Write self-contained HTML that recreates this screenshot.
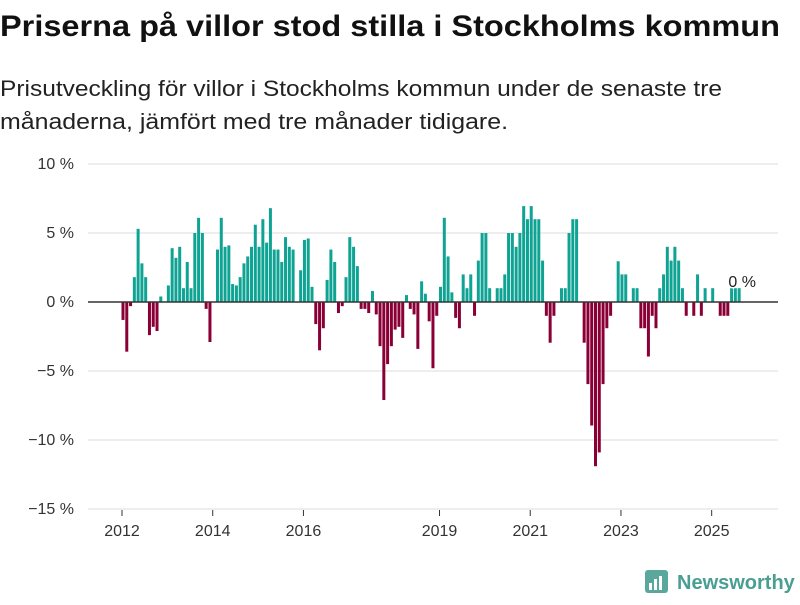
<!DOCTYPE html>
<html><head><meta charset="utf-8">
<style>
body{margin:0;background:#fff;width:800px;height:600px;overflow:hidden;font-family:"Liberation Sans",sans-serif;}
</style></head>
<body>
<svg id="chart" width="800" height="600" xmlns="http://www.w3.org/2000/svg" font-family="Liberation Sans, sans-serif">
<text x="0" y="36" font-size="30" font-weight="bold" fill="#111" textLength="780" lengthAdjust="spacingAndGlyphs">Priserna på villor stod stilla i Stockholms kommun</text>
<text x="0" y="96" font-size="22" fill="#222" textLength="722" lengthAdjust="spacingAndGlyphs">Prisutveckling för villor i Stockholms kommun under de senaste tre</text>
<text x="0" y="129" font-size="22" fill="#222" textLength="508" lengthAdjust="spacingAndGlyphs">månaderna, jämfört med tre månader tidigare.</text>
<g id="grid"></g>
<g id="bars"></g>
<g id="xaxis"></g>
<g>
<rect x="645" y="570" width="23" height="23" rx="3" fill="#5aa89c"/>
<rect x="649" y="583" width="3" height="7" fill="#fff"/>
<rect x="654" y="579" width="3" height="11" fill="#fff"/>
<rect x="659" y="576" width="3" height="14" fill="#fff"/>
<text x="677" y="589" font-size="20" font-weight="bold" fill="#4a9e92">Newsworthy</text>
</g>
</svg>
<script>
const values=[-1.3,-3.6,-0.3,1.8,5.3,2.8,1.8,-2.4,-1.8,-2.1,0.4,0,1.2,3.9,3.2,4.0,1.0,2.9,1.0,5.0,6.1,5.0,-0.5,-2.9,0,3.8,6.1,4.0,4.1,1.3,1.2,1.8,2.8,3.3,4.0,5.6,4.0,6.0,4.3,6.8,3.8,3.8,2.9,4.7,4.0,3.8,0,2.3,4.5,4.6,1.1,-1.6,-3.5,-1.9,1.6,3.8,2.9,-0.8,-0.3,1.8,4.7,4.0,2.6,-0.5,-0.5,-0.8,0.8,-0.9,-3.2,-7.1,-4.5,-3.2,-2.0,-1.8,-2.6,0.5,-0.5,-0.9,-3.4,1.5,0.6,-1.4,-4.8,-1.0,1.1,6.1,3.3,0.7,-1.15,-1.9,2.0,1.0,2.0,-1.0,3.0,5.0,5.0,1.0,0,1.0,1.0,2.0,5.0,5.0,4.0,5.0,6.95,6.0,6.95,6.0,6.0,3.0,-1.0,-2.95,-1.0,0,1.0,1.0,5.0,6.0,6.0,0,-2.95,-5.95,-8.95,-11.9,-10.9,-5.95,-1.9,-1.0,0,2.95,2.0,2.0,0,1.0,1.0,-1.9,-1.9,-3.95,-1.0,-1.9,1.0,2.0,4.0,3.0,4.0,3.0,1.0,-1.0,0,-1.0,2.0,-1.0,1.0,0,1.0,0,-1.0,-1.0,-1.0,1.0,1.0,1.0];
const startYear=2012;
const yTicks=[10,5,0,-5,-10,-15];
const yTickLabels=["10 %","5 %","0 %","−5 %","−10 %","−15 %"];
const xTickYears=[2012,2014,2016,2019,2021,2023,2025];
const lastLabel="0 %";

const NS="http://www.w3.org/2000/svg";
function y(v){return 302-v*13.8;}
function x(i){return 123+i*3.78;}
function xYear(yr){return x((yr-startYear)*12)-1;}
function mk(tag,attrs,parent){const e=document.createElementNS(NS,tag);for(const k in attrs)e.setAttribute(k,attrs[k]);parent.appendChild(e);return e;}

const grid=document.getElementById('grid');
yTicks.forEach((t,k)=>{
  if(t!==0){
    const l=mk('line',{x1:88,x2:778,y1:y(t),y2:y(t),stroke:'#dcdcdc','stroke-width':1},grid);
    
    
  }
  const tx=mk('text',{x:74,y:y(t)+5,'text-anchor':'end','font-size':16,fill:'#333'},grid);
  tx.textContent=yTickLabels[k];
  
  
});
const bars=document.getElementById('bars');
values.forEach((v,i)=>{
  if(v===0)return;
  const top=v>0?y(v):y(0);
  const r=mk('rect',{x:x(i)-1.5,y:top,width:3,height:Math.abs(y(v)-y(0)),fill:v>0?'#0fa393':'#8a0036'},bars);
  
  
});
const zl=mk('line',{x1:88,x2:778,y1:y(0),y2:y(0),stroke:'#333','stroke-width':1.5},bars);


const ll=mk('text',{x:x(values.length-1)+3,y:y(0)-15,'text-anchor':'middle','font-size':16,fill:'#222',stroke:'#fff','stroke-width':3,'paint-order':'stroke'},bars);
ll.textContent=lastLabel;


const xa=document.getElementById('xaxis');
xTickYears.forEach(yr=>{
  const px=xYear(yr);
  const tk=mk('line',{x1:px,x2:px,y1:510,y2:516,stroke:'#333','stroke-width':1},xa);
  
  
  const t=mk('text',{x:px,y:536,'text-anchor':'middle','font-size':16,fill:'#333'},xa);
  t.textContent=yr;
  
  
});
</script>
</body></html>
